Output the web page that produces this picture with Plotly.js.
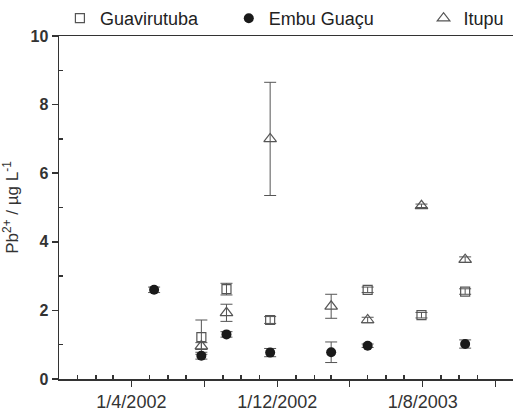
<!DOCTYPE html>
<html><head><meta charset="utf-8">
<script src="https://cdn.plot.ly/plotly-3.0.1.min.js"></script>
<style>html,body{margin:0;padding:0;background:#fff}</style>
</head><body><div id="chart" style="width:513px;height:411px"></div>
<script>
// Guavirutuba
const guaDates = ['2002-07-27','2002-09-07','2002-11-19','2003-05-01','2003-07-30','2003-10-11'];
const guaVals  = [1.22, 2.62, 1.72, 2.60, 1.86, 2.55];
const guaErr   = [0.50, 0.17, 0.10, 0.08, 0.08, 0.08];
// Embu Guaçu
const embDates = ['2002-05-09','2002-07-27','2002-09-07','2002-11-19','2003-03-01','2003-05-01','2003-10-11'];
const embVals  = [2.60, 0.68, 1.30, 0.77, 0.78, 0.97, 1.02];
const embErr   = [0.08, 0.10, 0.08, 0.12, 0.30, 0.05, 0.12];
// Itupu
const ituDates = ['2002-07-27','2002-09-07','2002-11-19','2003-03-01','2003-05-01','2003-07-30','2003-10-11'];
const ituVals  = [0.96, 1.93, 7.00, 2.12, 1.72, 5.05, 3.48];
const ituErr   = [0.10, 0.25, 1.65, 0.35, 0.08, 0.05, 0.08];

const xMajorVals = ['2002-04-01','2002-08-01','2002-12-01','2003-04-01','2003-08-01','2003-12-01'];
const xMajorText = ['1/4/2002','','1/12/2002','','1/8/2003',''];
const xMinorVals = ['2002-01-01','2002-02-01','2002-03-01','2002-05-01','2002-06-01','2002-07-01',
                    '2002-09-01','2002-10-01','2002-11-01','2003-01-01','2003-02-01','2003-03-01',
                    '2003-05-01','2003-06-01','2003-07-01','2003-09-01','2003-10-01','2003-11-01'];
const yMajorVals = [0,2,4,6,8,10];
const yMinorVals = [1,3,5,7,9];

const ax = '#333';
const fam = 'Liberation Sans, Arial, sans-serif';
const xRange = ['2001-12-01','2003-12-30'];
const toMs = s => Date.parse(s + 'T00:00:00Z');

function eb(arr){ return {type:'data', array:arr, color:'#555', thickness:1, width:6}; }

const traces = [
  {x:guaDates, y:guaVals, name:'Guavirutuba', type:'scatter', mode:'markers', legend:'legend',
   marker:{symbol:'square-open', size:9, color:'#555', line:{width:1.2, color:'#555'}}, error_y:eb(guaErr)},
  {x:ituDates, y:ituVals, name:'Itupu', type:'scatter', mode:'markers', legend:'legend3',
   marker:{symbol:'triangle-up-open', size:11, color:'#555', line:{width:1.2, color:'#555'}}, error_y:eb(ituErr)},
  {x:embDates, y:embVals, name:'Embu Guaçu', type:'scatter', mode:'markers', legend:'legend2',
   marker:{symbol:'circle', size:10, color:'#1a1a1a'}, error_y:eb(embErr)}
];

const legBase = {orientation:'h', yanchor:'middle', xanchor:'left', y:1.05,
  font:{family:fam, size:18, color:'#222'}, bgcolor:'rgba(0,0,0,0)'};

const layout = {
  width:513, height:411,
  margin:{l:59, r:0, t:35, b:32},
  paper_bgcolor:'#fff', plot_bgcolor:'#fff',
  font:{family:fam, color:ax},
  xaxis:{type:'date', range:xRange, showline:true, linecolor:ax, linewidth:1.5, mirror:true,
    ticks:'outside', ticklen:6, tickwidth:1.5, tickcolor:ax, tickmode:'array', tickvals:xMajorVals, ticktext:xMajorText,
    tickfont:{family:fam, size:18, color:'#333'}, showgrid:false, zeroline:false,
    minor:{ticks:'inside', ticklen:4, tickwidth:1.5, tickcolor:ax, tickmode:'array', tickvals:xMinorVals.map(toMs), showgrid:false}},
  yaxis:{range:[0,10], showline:true, linecolor:ax, linewidth:1.5, mirror:true,
    ticks:'outside', ticklen:6, tickwidth:1.5, tickcolor:ax, tickmode:'array', tickvals:yMajorVals,
    tickfont:{family:fam, size:16, color:'#333', weight:700}, showgrid:false, zeroline:false,
    title:{text:'Pb<sup>2+</sup> / µg L<sup>-1</sup>', font:{family:fam, size:17, color:'#333'}, standoff:10},
    minor:{ticks:'inside', ticklen:4, tickwidth:1.5, tickcolor:ax, tickmode:'array', tickvals:yMinorVals, showgrid:false}},
  legend:Object.assign({}, legBase, {x:0.002}),
  legend2:Object.assign({}, legBase, {x:0.374}),
  legend3:Object.assign({}, legBase, {x:0.803}),
  showlegend:true
};

Plotly.newPlot('chart', traces, layout, {displayModeBar:false, staticPlot:true});
</script></body></html>
